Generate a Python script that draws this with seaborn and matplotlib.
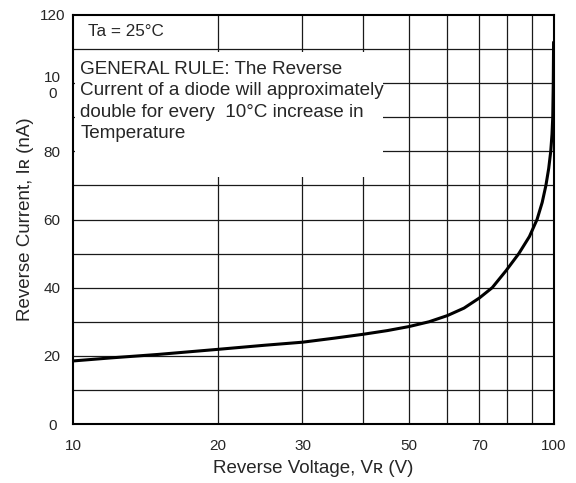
import matplotlib
matplotlib.use("Agg")
import matplotlib.pyplot as plt
import matplotlib.patches as mpatches
import seaborn as sns
import pandas as pd

# curve (reverse voltage V, reverse current nA)
voltage = [10, 12, 15, 20, 25, 30, 35, 40, 45, 50, 55, 60, 65, 70, 74.4,
           79.5, 84.5, 88.9, 92.2, 94.5, 96.2, 97.5, 98.45, 99.05, 99.4,
           99.65, 99.8]
current = [18.5, 19.4, 20.4, 21.9, 23.1, 24.0, 25.2, 26.3, 27.4, 28.6, 30.0,
           31.8, 34.0, 37.0, 40.0, 45.0, 50.0, 55.0, 60.0, 65.0, 70.0, 75.0,
           80.0, 85.0, 90.0, 100.0, 112.0]

x_ticks = [10, 20, 30, 40, 50, 60, 70, 80, 90, 100]
x_tick_labels = ["10", "20", "30", "", "50", "", "70", "", "", "100"]
y_ticks = [0, 20, 40, 60, 80, 100, 120]
y_tick_labels = ["0", "20", "40", "60", "80", "10\n0", "120"]
y_grid = [10, 20, 30, 40, 50, 60, 70, 80, 90, 100, 110]

note = ("GENERAL RULE: The Reverse\n"
        "Current of a diode will approximately\n"
        "double for every  10\u00b0C increase in\n"
        "Temperature")

sns.set_style("white")
plt.rcParams['font.family'] = ['Liberation Sans', 'DejaVu Sans']

df = pd.DataFrame({"V": voltage, "I": current})

fig = plt.figure(figsize=(5.76, 4.83), dpi=100)
ax = fig.add_axes([73 / 576, 1 - 424 / 483, 481 / 576, 409 / 483])

# grid drawn by hand so the note box can cover part of it
for v in x_ticks[1:-1]:
    ax.axvline(v, color="#1a1a1a", lw=0.9, zorder=1)
for i in y_grid:
    ax.axhline(i, color="#1a1a1a", lw=0.9, zorder=1)

sns.lineplot(data=df, x="V", y="I", ax=ax, color="black", lw=2.2,
             sort=False, zorder=4)

ax.set_xscale("log")
ax.set_xlim(10, 100)
ax.set_ylim(0, 120)
ax.set_xticks(x_ticks)
ax.set_xticklabels(x_tick_labels)
ax.minorticks_off()
ax.set_yticks(y_ticks)
ax.set_yticklabels(y_tick_labels)
for lab in ax.get_yticklabels():
    lab.set_ha("center")
    lab.set_multialignment("center")
ax.tick_params(axis="y", length=0, pad=15, labelsize=11)
ax.tick_params(axis="x", length=0, pad=11, labelsize=11)

for s in ax.spines.values():
    s.set_linewidth(1.5)
    s.set_color("black")

ax.set_xlabel("Reverse Voltage, V\u0280 (V)", fontsize=13.5, labelpad=5)
ax.set_ylabel("Reverse Current, I\u0280 (nA)", fontsize=13.5, labelpad=4)

# white box behind the note
box = mpatches.Rectangle((0.004, (424 - 177) / 409), (383 - 75) / 481,
                         (177 - 52) / 409, transform=ax.transAxes,
                         facecolor="white", edgecolor="none", zorder=2)
ax.add_patch(box)

ax.text(0.031, (424 - 31) / 409, "Ta = 25\u00b0C", transform=ax.transAxes,
        fontsize=12.3, va="center", ha="left", zorder=3)
ax.text(0.015, (424 - 61) / 409, note, transform=ax.transAxes,
        fontsize=13.6, va="top", ha="left", linespacing=1.34, zorder=3)

fig.savefig("out.png", dpi=100)
